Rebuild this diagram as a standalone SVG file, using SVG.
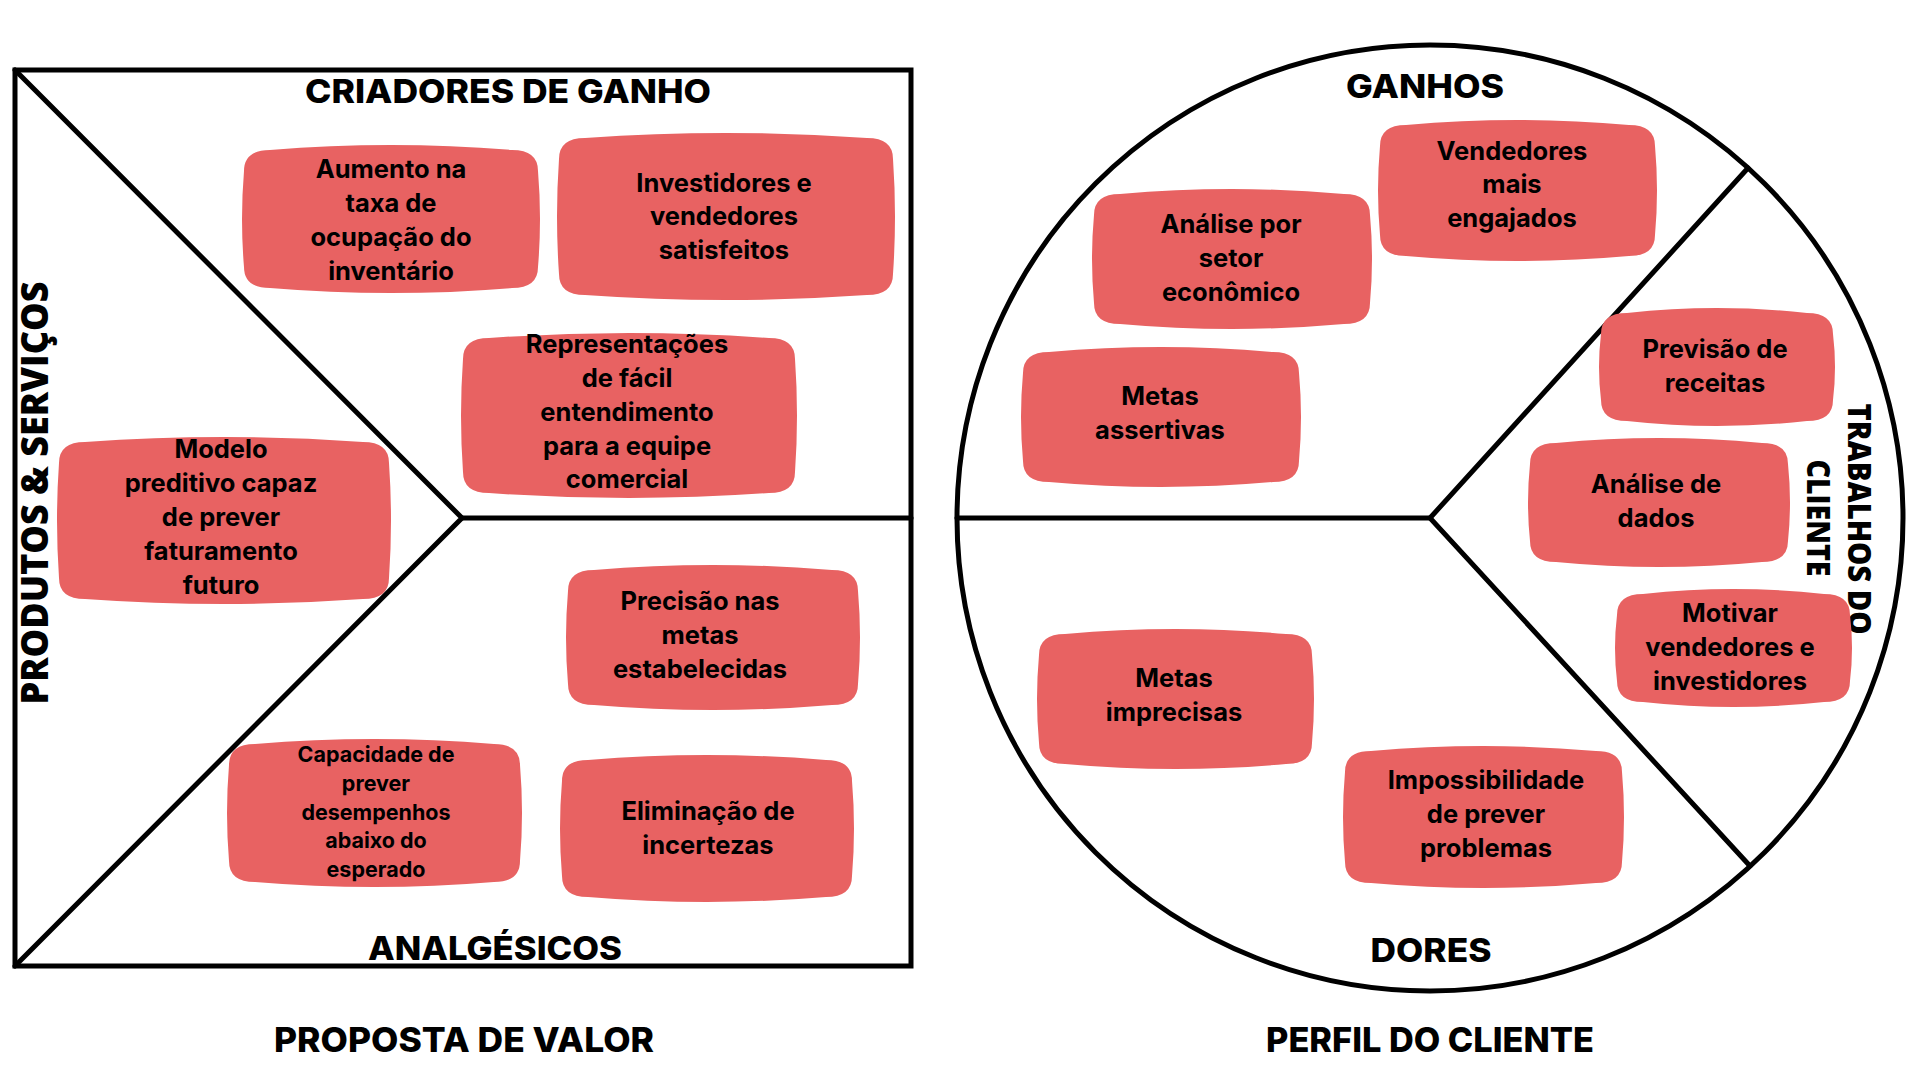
<svg xmlns="http://www.w3.org/2000/svg" width="1920" height="1080" viewBox="0 0 1920 1080">
<style>
.ln{fill:none;stroke:#000;stroke-width:5;stroke-linecap:round;stroke-linejoin:miter}
.note{fill:#E86262}
.nt{font-family:Inter,"Open Sans","Liberation Sans",sans-serif;font-weight:700;font-size:25.5px;fill:#000;text-anchor:middle}
.sm{font-size:21.5px}
.h{font-family:Inter,"Open Sans","Liberation Sans",sans-serif;font-weight:800;font-size:33px;fill:#000;text-anchor:middle}
.v{font-family:"Open Sans","Liberation Sans",sans-serif;font-weight:800;fill:#000;text-anchor:middle}
</style>
<rect width="1920" height="1080" fill="#fff"/>
<g id="frame-lines">
<rect class="ln" x="15" y="70" width="896" height="896"/>
<polyline class="ln" points="15,70 462,518 15,966"/>
<line class="ln" x1="462" y1="518" x2="911" y2="518"/>
<circle class="ln" cx="1430" cy="518" r="473"/>
<line class="ln" x1="957" y1="518" x2="1430" y2="518"/>
<polyline class="ln" points="1748,168 1430,518 1750,866"/>
</g>
<g id="labels">
<text class="h" x="508" y="103" textLength="406" lengthAdjust="spacingAndGlyphs">CRIADORES DE GANHO</text>
<text class="h" x="495" y="960" textLength="254" lengthAdjust="spacingAndGlyphs">ANALGÉSICOS</text>
<text class="h" x="464" y="1052" textLength="380" lengthAdjust="spacingAndGlyphs" style="font-size:34px">PROPOSTA DE VALOR</text>
<text class="h" x="1425" y="98" textLength="158" lengthAdjust="spacingAndGlyphs">GANHOS</text>
<text class="h" x="1431" y="962" textLength="121" lengthAdjust="spacingAndGlyphs">DORES</text>
<text class="h" x="1430" y="1052" textLength="328" lengthAdjust="spacingAndGlyphs" style="font-size:34px">PERFIL DO CLIENTE</text>
<text class="v" transform="translate(48,493) rotate(-90)" x="0" y="0" style="font-size:37px" textLength="423" lengthAdjust="spacingAndGlyphs">PRODUTOS &amp; SERVIÇOS</text>
<text class="v" transform="translate(1848,519) rotate(90)" x="0" y="0" style="font-size:32px" textLength="231" lengthAdjust="spacingAndGlyphs">TRABALHOS DO</text>
<text class="v" transform="translate(1807,518) rotate(90)" x="0" y="0" style="font-size:32px" textLength="117" lengthAdjust="spacingAndGlyphs">CLIENTE</text>
</g>
<g id="n1" transform="translate(244,145)">
<path class="note" d="M0 26Q0 5 26 5Q147 -5 268 5Q294 5 294 26Q298 74 294 122Q294 143 268 143Q147 153 26 143Q0 143 0 122Q-4 74 0 26Z"/>
<text class="nt"><tspan x="147" y="33">Aumento na</tspan><tspan x="147" y="67">taxa de</tspan><tspan x="147" y="101">ocupação do</tspan><tspan x="147" y="135">inventário</tspan></text>
</g>
<g id="n2" transform="translate(559,133)">
<path class="note" d="M0 26Q0 5 26 5Q167 -5 308 5Q334 5 334 26Q338 83.5 334 141Q334 162 308 162Q167 172 26 162Q0 162 0 141Q-4 83.5 0 26Z"/>
<text class="nt"><tspan x="165" y="59">Investidores e</tspan><tspan x="165" y="92">vendedores</tspan><tspan x="165" y="126">satisfeitos</tspan></text>
</g>
<g id="n3" transform="translate(463,333)">
<path class="note" d="M0 26Q0 5 26 5Q166 -5 306 5Q332 5 332 26Q336 82.5 332 139Q332 160 306 160Q166 170 26 160Q0 160 0 139Q-4 82.5 0 26Z"/>
<text class="nt"><tspan x="164" y="20">Representações</tspan><tspan x="164" y="54">de fácil</tspan><tspan x="164" y="88">entendimento</tspan><tspan x="164" y="122">para a equipe</tspan><tspan x="164" y="155">comercial</tspan></text>
</g>
<g id="n4" transform="translate(59,437)">
<path class="note" d="M0 26Q0 5 26 5Q165 -5 304 5Q330 5 330 26Q334 83.5 330 141Q330 162 304 162Q165 172 26 162Q0 162 0 141Q-4 83.5 0 26Z"/>
<text class="nt"><tspan x="162" y="21">Modelo</tspan><tspan x="162" y="55">preditivo capaz</tspan><tspan x="162" y="89">de prever</tspan><tspan x="162" y="123">faturamento</tspan><tspan x="162" y="157">futuro</tspan></text>
</g>
<g id="n5" transform="translate(568,565)">
<path class="note" d="M0 26Q0 5 26 5Q145 -5 264 5Q290 5 290 26Q294 72.5 290 119Q290 140 264 140Q145 150 26 140Q0 140 0 119Q-4 72.5 0 26Z"/>
<text class="nt"><tspan x="132" y="45">Precisão nas</tspan><tspan x="132" y="79">metas</tspan><tspan x="132" y="113">estabelecidas</tspan></text>
</g>
<g id="n6" transform="translate(229,739)">
<path class="note" d="M0 26Q0 5 26 5Q145.5 -5 265 5Q291 5 291 26Q295 74 291 122Q291 143 265 143Q145.5 153 26 143Q0 143 0 122Q-4 74 0 26Z"/>
<text class="nt sm"><tspan x="147" y="23">Capacidade de</tspan><tspan x="147" y="52">prever</tspan><tspan x="147" y="81">desempenhos</tspan><tspan x="147" y="109">abaixo do</tspan><tspan x="147" y="138">esperado</tspan></text>
</g>
<g id="n7" transform="translate(562,755)">
<path class="note" d="M0 26Q0 5 26 5Q145 -5 264 5Q290 5 290 26Q294 73.5 290 121Q290 142 264 142Q145 152 26 142Q0 142 0 121Q-4 73.5 0 26Z"/>
<text class="nt"><tspan x="146" y="65">Eliminação de</tspan><tspan x="146" y="99">incertezas</tspan></text>
</g>
<g id="n8" transform="translate(1380,120)">
<path class="note" d="M0 26Q0 5 26 5Q137.5 -5 249 5Q275 5 275 26Q279 70.5 275 115Q275 136 249 136Q137.5 146 26 136Q0 136 0 115Q-4 70.5 0 26Z"/>
<text class="nt"><tspan x="132" y="40">Vendedores</tspan><tspan x="132" y="73">mais</tspan><tspan x="132" y="107">engajados</tspan></text>
</g>
<g id="n9" transform="translate(1094,189)">
<path class="note" d="M0 26Q0 5 26 5Q138 -5 250 5Q276 5 276 26Q280 70 276 114Q276 135 250 135Q138 145 26 135Q0 135 0 114Q-4 70 0 26Z"/>
<text class="nt"><tspan x="137" y="44">Análise por</tspan><tspan x="137" y="78">setor</tspan><tspan x="137" y="112">econômico</tspan></text>
</g>
<g id="n10" transform="translate(1023,347)">
<path class="note" d="M0 26Q0 5 26 5Q138 -5 250 5Q276 5 276 26Q280 70 276 114Q276 135 250 135Q138 145 26 135Q0 135 0 114Q-4 70 0 26Z"/>
<text class="nt"><tspan x="137" y="58">Metas</tspan><tspan x="137" y="92">assertivas</tspan></text>
</g>
<g id="n11" transform="translate(1601,308)">
<path class="note" d="M0 26Q0 5 26 5Q116 -5 206 5Q232 5 232 26Q236 59 232 92Q232 113 206 113Q116 123 26 113Q0 113 0 92Q-4 59 0 26Z"/>
<text class="nt"><tspan x="114" y="50">Previsão de</tspan><tspan x="114" y="84">receitas</tspan></text>
</g>
<g id="n12" transform="translate(1530,438)">
<path class="note" d="M0 26Q0 5 26 5Q129 -5 232 5Q258 5 258 26Q262 64.5 258 103Q258 124 232 124Q129 134 26 124Q0 124 0 103Q-4 64.5 0 26Z"/>
<text class="nt"><tspan x="126" y="55">Análise de</tspan><tspan x="126" y="89">dados</tspan></text>
</g>
<g id="n13" transform="translate(1617,589)">
<path class="note" d="M0 26Q0 5 26 5Q116.5 -5 207 5Q233 5 233 26Q237 59 233 92Q233 113 207 113Q116.5 123 26 113Q0 113 0 92Q-4 59 0 26Z"/>
<text class="nt"><tspan x="113" y="33">Motivar</tspan><tspan x="113" y="67">vendedores e</tspan><tspan x="113" y="101">investidores</tspan></text>
</g>
<g id="n14" transform="translate(1039,629)">
<path class="note" d="M0 26Q0 5 26 5Q136.5 -5 247 5Q273 5 273 26Q277 70 273 114Q273 135 247 135Q136.5 145 26 135Q0 135 0 114Q-4 70 0 26Z"/>
<text class="nt"><tspan x="135" y="58">Metas</tspan><tspan x="135" y="92">imprecisas</tspan></text>
</g>
<g id="n15" transform="translate(1345,746)">
<path class="note" d="M0 26Q0 5 26 5Q138.5 -5 251 5Q277 5 277 26Q281 71 277 116Q277 137 251 137Q138.5 147 26 137Q0 137 0 116Q-4 71 0 26Z"/>
<text class="nt"><tspan x="141" y="43">Impossibilidade</tspan><tspan x="141" y="77">de prever</tspan><tspan x="141" y="111">problemas</tspan></text>
</g>
</svg>
